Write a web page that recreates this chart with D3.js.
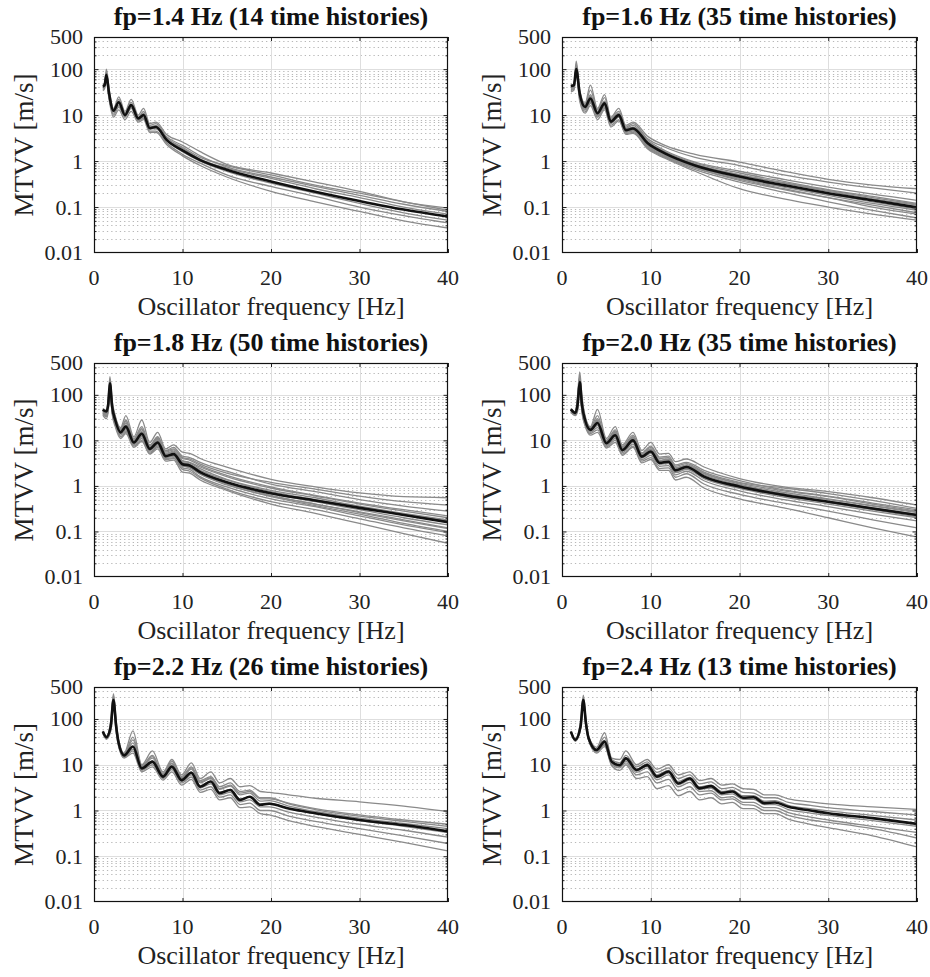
<!DOCTYPE html>
<html><head><meta charset="utf-8">
<script src="https://cdn.jsdelivr.net/npm/d3@7/dist/d3.min.js"></script>
<style>body{margin:0;background:#fff}svg{display:block}</style>
</head><body>
<svg id="c" width="930" height="977"></svg>
<script>
// ---------- data ----------
const titles = [
  "fp=1.4 Hz (14 time histories)",
  "fp=1.6 Hz (35 time histories)",
  "fp=1.8 Hz (50 time histories)",
  "fp=2.0 Hz (35 time histories)",
  "fp=2.2 Hz (26 time histories)",
  "fp=2.4 Hz (13 time histories)"
];
const xTicks = [0, 10, 20, 30, 40];
const yTicks = [0.01, 0.1, 1, 10, 100, 500];
const yTickLabels = ["0.01", "0.1", "1", "10", "100", "500"];
const yMajorGrid = [0.1, 1, 10, 100];
const yMinorGrid = [0.02,0.03,0.04,0.05,0.06,0.07,0.08,0.09,
                    0.2,0.3,0.4,0.5,0.6,0.7,0.8,0.9,
                    2,3,4,5,6,7,8,9,
                    20,30,40,50,60,70,80,90,
                    200,300,400];
const xLabel = "Oscillator frequency [Hz]";
const yLabel = "MTVV [m/s]";

// panel 1: fp = 1.4 Hz
const freq1 = [1.0, 1.2, 1.4, 1.7, 2.2, 2.8, 3.5, 4.2, 5.0, 5.6, 6.3, 7.0, 8.2, 10, 12, 15, 20, 25, 30, 35, 40];
const mean1 = [42, 45, 75, 30, 12.5, 19, 10, 16.5, 8.5, 10, 5.2, 5.5, 2.9, 1.7, 1.05, 0.65, 0.36, 0.215, 0.135, 0.088, 0.062];
const gray1 = [
  [45, 50, 100, 38, 14, 25, 12, 22, 10, 14, 6.5, 7, 3.8, 2.6, 1.6, 0.85, 0.55, 0.35, 0.22, 0.13, 0.095],
  [40, 44, 85, 33, 13, 22, 11, 19, 9, 12, 6, 6.5, 3.4, 2.2, 1.3, 0.75, 0.45, 0.28, 0.18, 0.115, 0.08],
  [38, 42, 70, 28, 12, 18, 10, 16, 8, 10, 5.3, 5.5, 3.0, 1.9, 1.1, 0.7, 0.42, 0.25, 0.16, 0.1, 0.07],
  [42, 44, 65, 26, 11, 16, 9.5, 15, 8, 9, 5, 5, 2.8, 1.6, 1.0, 0.6, 0.33, 0.2, 0.12, 0.075, 0.052],
  [36, 40, 60, 24, 10, 15, 9, 14, 7.5, 8.5, 4.5, 4.5, 2.5, 1.4, 0.9, 0.5, 0.28, 0.17, 0.1, 0.065, 0.045],
  [34, 38, 55, 22, 9, 13, 8, 12, 7, 8, 4.2, 4.2, 2.3, 1.3, 0.8, 0.45, 0.22, 0.13, 0.08, 0.05, 0.035],
  [40, 45, 80, 31, 12, 20, 10, 17, 8, 11, 5.5, 6, 3.2, 2.0, 1.2, 0.8, 0.5, 0.3, 0.2, 0.13, 0.085]
];

// panel 2: fp = 1.6 Hz
const freq2 = [1.0, 1.35, 1.6, 2.0, 2.6, 3.2, 4.0, 4.8, 5.5, 6.4, 7.2, 8.0, 9.7, 11.6, 15, 20, 25, 30, 35, 40];
const mean2 = [43, 45, 100, 29, 15, 23, 11, 18, 7.2, 10, 4.7, 5.1, 2.4, 1.47, 0.8, 0.46, 0.3, 0.2, 0.14, 0.098];
const gray2 = [
  [45, 48, 150, 35, 18, 45, 14, 28, 9, 14, 6, 7, 3.4, 2.2, 1.4, 0.95, 0.6, 0.4, 0.3, 0.25],
  [42, 45, 130, 32, 17, 35, 13, 24, 8.5, 12, 5.5, 6.5, 3.0, 2.0, 1.2, 0.8, 0.5, 0.35, 0.26, 0.2],
  [40, 43, 115, 30, 16, 28, 12, 20, 8, 11, 5.2, 6, 2.8, 1.7, 0.95, 0.6, 0.4, 0.27, 0.19, 0.14],
  [44, 46, 95, 28, 15, 22, 11, 17, 7.5, 10, 4.8, 5.2, 2.5, 1.5, 0.85, 0.5, 0.33, 0.22, 0.15, 0.11],
  [38, 41, 90, 26, 14, 20, 10, 16, 7, 9.5, 4.5, 4.8, 2.2, 1.35, 0.75, 0.42, 0.27, 0.18, 0.12, 0.085],
  [36, 39, 85, 25, 13, 19, 9.5, 15, 6.5, 9, 4.2, 4.5, 2.0, 1.25, 0.7, 0.4, 0.25, 0.16, 0.1, 0.07],
  [34, 37, 80, 22, 12, 18, 9, 14, 6, 8, 4, 4.2, 1.9, 1.2, 0.65, 0.35, 0.21, 0.13, 0.085, 0.058],
  [32, 35, 75, 20, 11, 16, 8, 13, 5.5, 7.5, 3.8, 4, 1.8, 1.15, 0.6, 0.25, 0.15, 0.1, 0.07, 0.052],
  [41, 44, 105, 27, 15, 25, 11.5, 19, 7.8, 10.5, 5, 5.5, 2.6, 1.6, 0.9, 0.55, 0.36, 0.24, 0.17, 0.12],
  [43, 46, 110, 30, 16, 26, 11.5, 19, 7.5, 10.5, 5, 5.4, 2.5, 1.55, 0.85, 0.5, 0.34, 0.23, 0.16, 0.115],
  [40, 43, 95, 27, 14.5, 22, 10.5, 17, 7, 9.5, 4.6, 4.9, 2.3, 1.4, 0.78, 0.44, 0.28, 0.19, 0.13, 0.09],
  [39, 42, 92, 26, 14, 21, 10.2, 16.5, 6.8, 9.2, 4.4, 4.7, 2.1, 1.3, 0.72, 0.38, 0.24, 0.16, 0.11, 0.075]
];

// panel 3: fp = 1.8 Hz
const freq3 = [1.0, 1.4, 1.6, 1.8, 2.05, 2.4, 3.0, 3.6, 4.5, 5.4, 6.3, 7.2, 8.1, 9.0, 10.0, 10.8, 12, 15, 20, 25, 30, 35, 40];
const mean3 = [47, 43, 60, 180, 55, 28, 15, 20, 9, 14, 6.5, 9, 4.5, 5, 3, 2.8, 2.0, 1.2, 0.69, 0.48, 0.33, 0.23, 0.16];
const gray3 = [
  [50, 46, 80, 250, 75, 35, 19, 35, 12, 28, 9, 15, 6.5, 8, 5.5, 5.2, 4, 2.6, 1.4, 0.95, 0.7, 0.58, 0.55],
  [48, 44, 70, 220, 65, 32, 18, 28, 11, 20, 8, 12, 6, 7, 4.5, 4.2, 3.3, 2.1, 1.1, 0.75, 0.5, 0.36, 0.28],
  [46, 42, 65, 200, 60, 30, 17, 24, 10, 17, 7.5, 11, 5.5, 6.2, 4, 3.7, 2.8, 1.7, 0.95, 0.62, 0.42, 0.3, 0.22],
  [45, 40, 60, 185, 56, 29, 16, 21, 9.5, 15, 7, 10, 5, 5.5, 3.5, 3.2, 2.4, 1.4, 0.8, 0.55, 0.36, 0.25, 0.18],
  [44, 38, 56, 170, 52, 27, 15, 19, 9, 13, 6.5, 9, 4.6, 5, 3.1, 2.8, 2.0, 1.2, 0.68, 0.45, 0.3, 0.2, 0.14],
  [42, 36, 52, 160, 48, 25, 14, 17, 8.5, 12, 6, 8, 4.2, 4.5, 2.8, 2.5, 1.8, 1.05, 0.6, 0.4, 0.26, 0.17, 0.115],
  [40, 35, 50, 150, 45, 23, 13, 16, 8, 11, 5.5, 7.5, 4, 4.2, 2.5, 2.3, 1.6, 0.95, 0.52, 0.35, 0.22, 0.14, 0.095],
  [38, 33, 46, 140, 42, 22, 12, 15, 7.5, 10, 5.2, 7, 3.8, 4, 2.3, 2.1, 1.5, 0.85, 0.45, 0.3, 0.19, 0.12, 0.08],
  [36, 30, 42, 130, 38, 20, 11, 14, 7, 9.5, 5, 6.5, 3.5, 3.7, 2.0, 1.9, 1.35, 0.8, 0.4, 0.25, 0.15, 0.09, 0.055],
  [47, 43, 68, 210, 62, 31, 17, 26, 10.5, 18, 7.8, 11.5, 5.8, 6.5, 4.2, 3.9, 3.0, 1.9, 1.2, 0.85, 0.6, 0.45, 0.38],
  [46, 41, 58, 175, 52, 27, 15, 19, 9, 13.5, 6.3, 8.5, 4.4, 4.8, 2.9, 2.7, 1.9, 1.15, 0.62, 0.4, 0.27, 0.18, 0.12],
  [45, 40, 56, 165, 50, 26, 14.5, 18, 8.7, 12.5, 6, 8.2, 4.3, 4.6, 2.7, 2.6, 1.85, 1.1, 0.58, 0.37, 0.24, 0.15, 0.1],
  [47, 42, 62, 195, 58, 29, 16, 22, 9.8, 15.5, 7.2, 10.5, 5.2, 5.8, 3.6, 3.3, 2.6, 1.6, 0.9, 0.6, 0.4, 0.28, 0.2],
  [46, 41, 60, 185, 55, 28, 15.5, 20, 9.3, 14, 6.7, 9.5, 4.8, 5.2, 3.3, 3.0, 2.2, 1.35, 0.75, 0.5, 0.34, 0.24, 0.17]
];

// panel 4: fp = 2.0 Hz
const freq4 = [1.0, 1.5, 1.75, 2.0, 2.25, 2.6, 3.2, 4.0, 5.0, 6.0, 6.8, 8.0, 9.0, 10.0, 11.0, 12.0, 12.8, 14.0, 16, 20, 25, 30, 35, 40];
const mean4 = [48, 40, 60, 190, 60, 28, 17, 24, 8.7, 13, 6.1, 10, 4.4, 5.7, 3.2, 3.4, 2.2, 2.6, 1.6, 0.97, 0.63, 0.45, 0.32, 0.23];
const gray4 = [
  [50, 42, 95, 320, 90, 35, 20, 48, 11, 20, 8, 15, 6, 9, 5, 5.2, 3.4, 3.9, 2.6, 1.45, 0.95, 0.75, 0.55, 0.38],
  [49, 41, 80, 260, 75, 32, 19, 35, 10, 17, 7.3, 13, 5.3, 7.5, 4.3, 4.5, 2.9, 3.3, 2.2, 1.3, 0.82, 0.6, 0.42, 0.3],
  [48, 40, 68, 220, 65, 30, 18, 28, 9.5, 15, 6.8, 11.5, 4.9, 6.5, 3.7, 3.9, 2.5, 2.9, 1.9, 1.1, 0.72, 0.52, 0.37, 0.27],
  [47, 39, 58, 180, 56, 28, 17, 24, 8.8, 13, 6.2, 10, 4.5, 5.8, 3.3, 3.5, 2.2, 2.6, 1.65, 1.0, 0.64, 0.46, 0.33, 0.24],
  [46, 38, 52, 160, 50, 26, 16, 21, 8.2, 12, 5.8, 9, 4.1, 5.2, 3.0, 3.1, 1.95, 2.3, 1.45, 0.88, 0.57, 0.4, 0.28, 0.2],
  [45, 37, 48, 150, 46, 24, 15, 19, 7.7, 11, 5.4, 8.3, 3.8, 4.7, 2.7, 2.8, 1.75, 2.1, 1.3, 0.78, 0.5, 0.35, 0.24, 0.17],
  [43, 36, 46, 140, 43, 22, 14, 17, 7.2, 10, 5.0, 7.5, 3.5, 4.2, 2.4, 2.5, 1.55, 1.85, 1.1, 0.65, 0.42, 0.28, 0.18, 0.12],
  [42, 35, 43, 130, 40, 21, 13, 15, 6.8, 9, 4.7, 7, 3.2, 3.8, 2.2, 2.2, 1.35, 1.55, 0.9, 0.52, 0.33, 0.2, 0.12, 0.075],
  [48, 41, 72, 240, 70, 31, 18, 30, 9.8, 16, 7, 12, 5.2, 7, 4, 4.2, 2.7, 3.1, 2.0, 1.2, 0.9, 0.68, 0.48, 0.32],
  [47, 39, 58, 200, 58, 29, 17.5, 26, 9, 14, 6.5, 10.5, 4.7, 6.2, 3.5, 3.7, 2.3, 2.7, 1.75, 1.05, 0.68, 0.5, 0.36, 0.26],
  [46, 38, 55, 170, 54, 27, 16.5, 22, 8.5, 12.5, 6, 9.5, 4.3, 5.5, 3.1, 3.3, 2.05, 2.4, 1.5, 0.92, 0.6, 0.43, 0.3, 0.21],
  [49, 41, 62, 210, 63, 30, 18.5, 27, 9.2, 14.5, 6.6, 11, 4.8, 6.4, 3.6, 3.8, 2.4, 2.8, 1.85, 1.15, 0.78, 0.58, 0.4, 0.28]
];

// panel 5: fp = 2.2 Hz
const freq5 = [1.0, 1.4, 1.9, 2.2, 2.5, 2.8, 3.4, 4.4, 5.4, 6.6, 7.8, 8.8, 9.9, 11.0, 12.0, 13.2, 14.2, 15.4, 16.5, 17.6, 18.8, 19.8, 22, 25, 30, 35, 40];
const mean5 = [53, 40, 70, 260, 70, 29, 16, 25, 8.3, 11.7, 5.5, 9.1, 4.6, 6.7, 3.3, 4.3, 2.4, 2.8, 1.7, 2.0, 1.33, 1.4, 1.1, 0.87, 0.62, 0.48, 0.35];
const gray5 = [
  [55, 42, 95, 360, 95, 33, 18, 55, 10, 20, 7, 13, 6, 11, 5, 7, 4, 5, 3.3, 3.5, 2.6, 2.5, 2.2, 1.85, 1.55, 1.25, 0.95],
  [54, 41, 85, 320, 85, 32, 17, 40, 9.5, 16, 6.5, 12, 5.5, 9, 4.5, 5.5, 3.3, 4, 2.6, 2.8, 1.9, 1.9, 1.4, 1.05, 0.75, 0.58, 0.45],
  [53, 40, 78, 290, 78, 30, 16.5, 30, 9, 14, 6, 10.5, 5.2, 8, 4, 5, 2.9, 3.4, 2.2, 2.4, 1.6, 1.65, 1.25, 0.95, 0.68, 0.52, 0.4],
  [52, 39, 70, 260, 70, 29, 16, 25, 8.5, 12, 5.6, 9.3, 4.7, 7, 3.5, 4.4, 2.5, 2.9, 1.8, 2.0, 1.4, 1.45, 1.1, 0.85, 0.6, 0.45, 0.33],
  [51, 38, 65, 240, 64, 27, 15, 22, 8, 11, 5.2, 8.5, 4.3, 6, 3.1, 3.8, 2.2, 2.5, 1.55, 1.7, 1.2, 1.2, 0.92, 0.72, 0.5, 0.37, 0.26],
  [50, 37, 60, 220, 58, 26, 14.5, 20, 7.5, 10, 5, 7.8, 4, 5.4, 2.8, 3.3, 1.95, 2.2, 1.35, 1.45, 1.0, 1.0, 0.75, 0.58, 0.4, 0.28, 0.19],
  [48, 36, 55, 200, 52, 24, 14, 18, 7, 9, 4.6, 7, 3.6, 4.8, 2.5, 2.9, 1.7, 1.9, 1.15, 1.2, 0.85, 0.8, 0.6, 0.45, 0.3, 0.2, 0.13],
  [52, 40, 72, 270, 72, 31, 17, 35, 9.2, 15, 6.2, 11, 5, 8.5, 4.2, 5.2, 3.0, 3.6, 2.4, 2.6, 1.8, 1.8, 1.45, 1.1, 0.8, 0.62, 0.5]
];

// panel 6: fp = 2.4 Hz
const freq6 = [1.0, 1.5, 2.1, 2.4, 2.7, 3.0, 3.9, 4.8, 5.6, 6.5, 7.2, 8.4, 9.6, 10.7, 12.0, 13.1, 14.4, 15.5, 16.8, 18.0, 19.2, 20.4, 21.6, 22.8, 24.0, 25.5, 28, 30, 35, 40];
const mean6 = [53, 35, 70, 260, 80, 38, 21, 32, 11.7, 9.8, 13.8, 7.7, 9.8, 5.5, 7.1, 3.9, 5.0, 3.05, 3.4, 2.4, 2.6, 1.9, 1.95, 1.45, 1.5, 1.2, 1.0, 0.87, 0.68, 0.51];
const gray6 = [
  [55, 37, 90, 330, 100, 42, 24, 50, 14, 13, 20, 10, 13, 8, 10, 6, 7, 4.5, 5, 3.6, 3.8, 3, 2.9, 2.2, 2.2, 1.8, 1.55, 1.4, 1.2, 1.05],
  [54, 36, 80, 290, 90, 40, 22, 40, 13, 11, 16, 9, 11.5, 6.8, 8.5, 5, 6, 3.8, 4.2, 3, 3.2, 2.5, 2.4, 1.9, 1.9, 1.5, 1.3, 1.15, 0.95, 0.8],
  [53, 35, 73, 270, 83, 38, 21, 34, 12, 10, 14.5, 8, 10.5, 6, 7.5, 4.3, 5.3, 3.3, 3.6, 2.6, 2.8, 2.1, 2.1, 1.6, 1.65, 1.3, 1.1, 0.98, 0.78, 0.62],
  [52, 34, 68, 250, 77, 37, 20, 30, 11, 9.5, 13, 7.3, 9.3, 5.2, 6.6, 3.7, 4.6, 2.9, 3.1, 2.2, 2.3, 1.75, 1.75, 1.35, 1.35, 1.05, 0.88, 0.78, 0.6, 0.45],
  [51, 33, 63, 230, 72, 35, 19, 27, 10.5, 9, 12, 6.8, 8.5, 4.7, 6, 3.3, 4.1, 2.6, 2.7, 1.9, 2.0, 1.5, 1.5, 1.15, 1.15, 0.9, 0.72, 0.62, 0.45, 0.33],
  [50, 33, 60, 220, 68, 34, 18, 25, 9.5, 7.5, 10, 5, 5.5, 3.0, 3.5, 2.1, 2.6, 1.7, 1.9, 1.4, 1.5, 1.1, 1.1, 0.85, 0.85, 0.65, 0.5, 0.42, 0.28, 0.16],
  [52, 34, 65, 240, 74, 36, 19.5, 28, 10, 8.5, 11, 6, 7, 4, 4.8, 2.7, 3.3, 2.2, 2.4, 1.7, 1.8, 1.35, 1.3, 1.0, 1.0, 0.78, 0.62, 0.55, 0.4, 0.25]
];

const panels = [
  {title: titles[0], freq: freq1, mean: mean1, gray: gray1},
  {title: titles[1], freq: freq2, mean: mean2, gray: gray2},
  {title: titles[2], freq: freq3, mean: mean3, gray: gray3},
  {title: titles[3], freq: freq4, mean: mean4, gray: gray4},
  {title: titles[4], freq: freq5, mean: mean5, gray: gray5},
  {title: titles[5], freq: freq6, mean: mean6, gray: gray6}
];

// ---------- layout ----------
const cols = [{l: 94, r: 448}, {l: 562, r: 917}];
const rows = [{t: 37, b: 253}, {t: 363, b: 577}, {t: 687, b: 902}];
const FONT = "'Liberation Serif','Times New Roman',Times,serif";

const svg = d3.select("#c");
svg.append("rect").attr("width", 930).attr("height", 977).attr("fill", "#fff");

panels.forEach((p, i) => {
  const c = cols[i % 2], r = rows[Math.floor(i / 2)];
  const x = d3.scaleLinear().domain([0, 40]).range([c.l, c.r]);
  const y = d3.scaleLog().domain([0.01, 500]).range([r.b, r.t]);
  const g = svg.append("g");
  const clipId = "clip" + i;
  g.append("clipPath").attr("id", clipId).append("rect")
    .attr("x", c.l).attr("y", r.t).attr("width", c.r - c.l).attr("height", r.b - r.t);

  // minor dotted grid
  g.append("g").selectAll("line").data(yMinorGrid).join("line")
    .attr("x1", c.l).attr("x2", c.r)
    .attr("y1", d => Math.round(y(d)) + 0.5).attr("y2", d => Math.round(y(d)) + 0.5)
    .attr("stroke", "#b8b8b8").attr("stroke-width", 1).attr("stroke-dasharray", "1.3 3");
  // major grid
  g.append("g").selectAll("line").data(yMajorGrid).join("line")
    .attr("x1", c.l).attr("x2", c.r)
    .attr("y1", d => Math.round(y(d)) + 0.5).attr("y2", d => Math.round(y(d)) + 0.5)
    .attr("stroke", "#dedede").attr("stroke-width", 1);
  g.append("g").selectAll("line").data(xTicks.slice(1, -1)).join("line")
    .attr("y1", r.t).attr("y2", r.b)
    .attr("x1", d => Math.round(x(d)) + 0.5).attr("x2", d => Math.round(x(d)) + 0.5)
    .attr("stroke", "#dedede").attr("stroke-width", 1);

  const line = d3.line().x((d, k) => x(p.freq[k])).y(d => y(d)).curve(d3.curveMonotoneX);
  const lg = g.append("g").attr("clip-path", `url(#${clipId})`);
  lg.selectAll("path.gray").data(p.gray).join("path").attr("class", "gray")
    .attr("d", line).attr("fill", "none").attr("stroke", "#8a8a8a").attr("stroke-width", 1.3);
  lg.append("path").datum(p.mean).attr("d", line).attr("fill", "none")
    .attr("stroke", "#111").attr("stroke-width", 2.6).attr("stroke-linejoin", "round");

  // axes via d3 axis (inward ticks)
  const xAxisB = d3.axisBottom(x).tickValues(xTicks).tickSize(-4).tickFormat("");
  const xAxisT = d3.axisTop(x).tickValues(xTicks).tickSize(-4).tickFormat("");
  const yAxisL = d3.axisLeft(y).tickValues(yTicks.slice(1, -1)).tickSize(-4.5).tickFormat("");
  const yAxisR = d3.axisRight(y).tickValues(yTicks.slice(1, -1)).tickSize(-4.5).tickFormat("");
  const yMinL = d3.axisLeft(y).tickValues(yMinorGrid).tickSize(-2.5).tickFormat("");
  const yMinR = d3.axisRight(y).tickValues(yMinorGrid).tickSize(-2.5).tickFormat("");
  [[xAxisB, `translate(0,${r.b})`], [xAxisT, `translate(0,${r.t})`],
   [yAxisL, `translate(${c.l},0)`], [yAxisR, `translate(${c.r},0)`],
   [yMinL, `translate(${c.l},0)`], [yMinR, `translate(${c.r},0)`]].forEach(([ax, tr]) => {
    const a = g.append("g").attr("transform", tr).call(ax);
    a.select(".domain").remove();
    a.selectAll("line").attr("stroke", "#222");
  });
  // box
  g.append("rect").attr("x", c.l + 0.5).attr("y", r.t + 0.5)
    .attr("width", c.r - c.l - 1).attr("height", r.b - r.t - 1)
    .attr("fill", "none").attr("stroke", "#111").attr("stroke-width", 1.2);

  // tick labels
  g.append("g").selectAll("text").data(xTicks).join("text")
    .attr("x", d => x(d)).attr("y", r.b + 32).attr("text-anchor", "middle")
    .attr("font-family", FONT).attr("font-size", 22).attr("fill", "#222").text(d => d);
  g.append("g").selectAll("text").data(yTicks).join("text")
    .attr("x", c.l - 11).attr("y", d => y(d)).attr("dy", "0.34em").attr("text-anchor", "end")
    .attr("font-family", FONT).attr("font-size", 22).attr("fill", "#222")
    .text((d, k) => yTickLabels[k]);

  // labels
  g.append("text").attr("x", (c.l + c.r) / 2).attr("y", r.b + 62).attr("text-anchor", "middle")
    .attr("font-family", FONT).attr("font-size", 26).attr("fill", "#222").text(xLabel);
  g.append("text").attr("transform", `translate(${c.l - 61},${(r.t + r.b) / 2}) rotate(-90)`)
    .attr("text-anchor", "middle").attr("font-family", FONT).attr("font-size", 27)
    .attr("fill", "#222").text(yLabel);
  g.append("text").attr("x", (c.l + c.r) / 2).attr("y", r.t - 12).attr("text-anchor", "middle")
    .attr("font-family", FONT).attr("font-size", 26).attr("font-weight", "bold")
    .attr("fill", "#111").text(p.title);
});
</script>
</body></html>
